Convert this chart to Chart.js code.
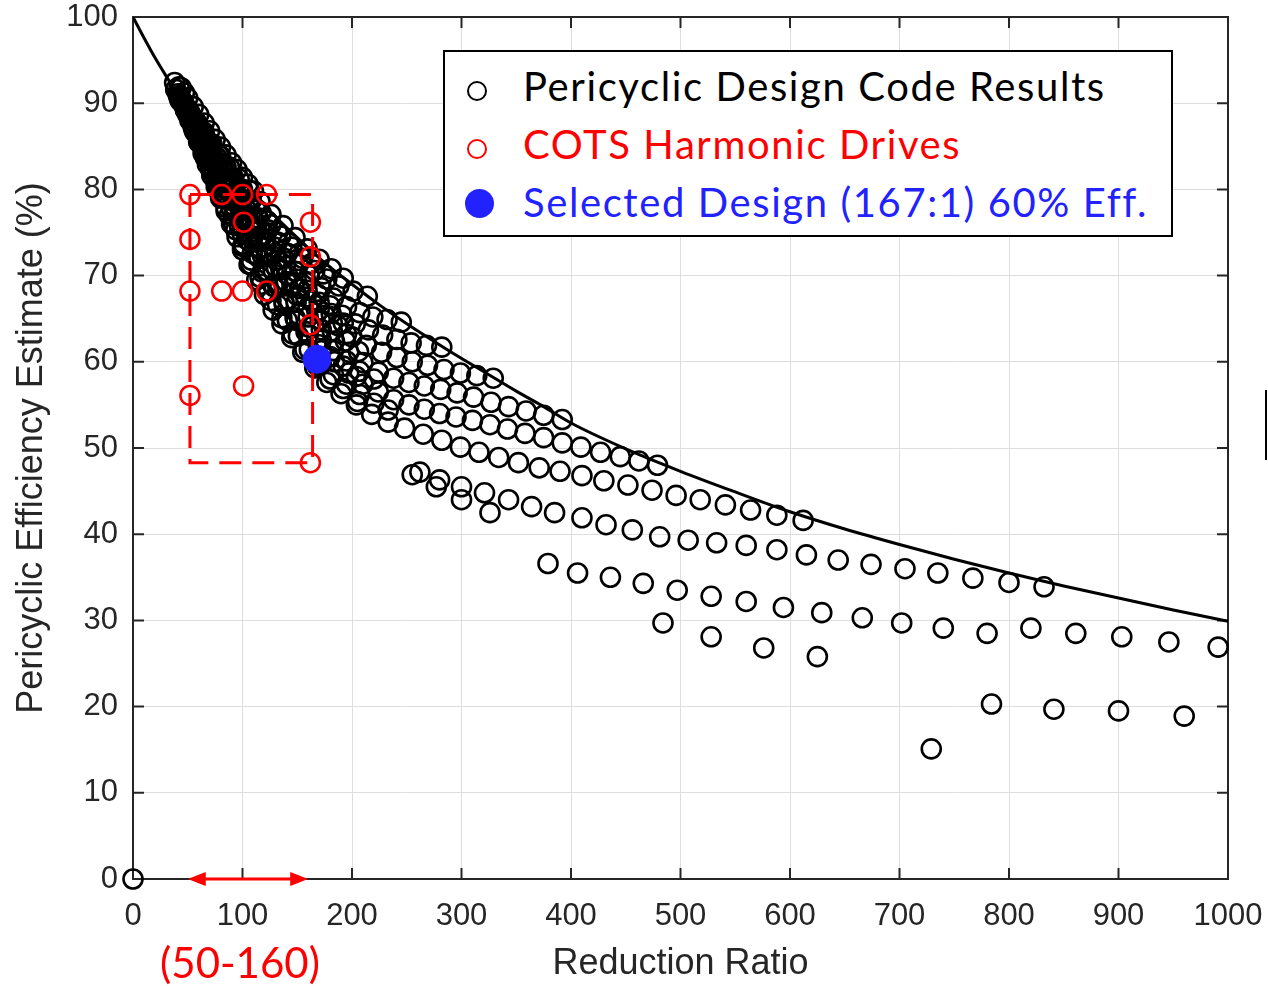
<!DOCTYPE html>
<html lang="en">
<head>
<meta charset="UTF-8">
<title>Pericyclic Efficiency vs Reduction Ratio</title>
<style>
  body { margin: 0; background: #fff; }
  #wrap { position: relative; width: 1268px; height: 986px; }
  #legend {
    position: absolute; left: 443px; top: 50px; width: 726px; height: 183px;
    border: 2px solid #000; background: #fff;
    font-family: Lato, "Noto Sans", sans-serif; font-size: 40px; line-height: 40px; letter-spacing: 1.6px;
  }
  .item { position: absolute; left: 78px; white-space: nowrap; }
  .mark { position: absolute; box-sizing: border-box; border-radius: 50%; }
  #range {
    position: absolute; left: 240px; top: 941px; transform: translateX(-50%);
    font-family: Lato, "Noto Sans", sans-serif; font-size: 42px; line-height: 42px; color: #ff0000;
    white-space: nowrap;
  }
  #bar { position: absolute; left: 1265px; top: 390px; width: 2px; height: 70px; background: #000; }
</style>
</head>
<body>
<div id="wrap">
  <canvas id="chart" width="1268" height="986"></canvas>
  <div id="legend">
    <div class="mark" style="left:22px;top:29px;width:20px;height:20px;border:2px solid #000;"></div>
    <div class="item" style="top:14px;color:#000;">Pericyclic Design Code Results</div>
    <div class="mark" style="left:22px;top:87px;width:20px;height:20px;border:2px solid #ff0000;"></div>
    <div class="item" style="top:72px;color:#ff0000;">COTS Harmonic Drives</div>
    <div class="mark" style="left:20px;top:137px;width:29px;height:29px;background:#2222ff;"></div>
    <div class="item" style="top:130px;color:#2222ff;">Selected Design (167:1) 60% Eff.</div>
  </div>
  <div id="range">(50-160)</div>
  <div id="bar"></div>
</div>

<script src="https://cdn.jsdelivr.net/npm/chart.js"></script>
<script>
  // black curve (upper bound estimate)
  const curveRatio = [0, 10, 20, 30, 40, 60, 80, 100, 125, 150, 175, 200, 225, 250, 287, 325, 350, 375, 400, 450, 500, 550, 600, 650, 700, 750, 800, 850, 900, 950, 1000];
  const curveEff = [100, 97.6, 95.3, 93.2, 91.2, 87.5, 84.1, 81.0, 77.5, 74.4, 71.5, 69.0, 66.6, 64.4, 61.4, 58.5, 56.6, 54.8, 52.9, 49.9, 47.3, 44.9, 42.6, 40.6, 38.8, 37.1, 35.5, 34.0, 32.6, 31.2, 29.9];

  // design code results, one family of designs per array: [ratio, efficiency]
  const famCap = [[38,92.4],[42,91.9],[44,91.8],[47,91.2],[50,90.6],[55,89.6],[60,88.7],[65,87.7],[70,86.8],[75,85.8],[80,84.9],[85,84.0],[90,83.1],[95,82.3],[100,81.4],[105,80.6],[110,79.8]];
  const famF1 = [[45,90.2],[48,89.2],[52,88.0],[56,86.8],[60,85.5],[64,84.2],[68,82.9],[72,81.6],[76,80.3],[80,79.0],[85,77.5],[90,76.0],[95,74.5],[100,73.0],[106,71.3],[113,69.5],[120,67.8],[128,66.0],[136,64.4],[145,62.8],[155,61.1],[166,59.3],[177,57.6],[190,56.3],[204,55.0],[218,53.9],[233,53.0],[248,52.3],[265,51.6],[282,50.9],[299,50.1],[316,49.5],[334,48.9],[352,48.3],[371,47.7],[390,47.3],[410,46.8],[430,46.2],[452,45.7],[474,45.1],[496,44.5],[518,44.0],[541,43.4],[564,42.8],[588,42.2],[612,41.6]];
  const famH0 = [[50,88.7],[55,87.2],[60,85.6],[66,83.7],[72,81.8],[78,79.9],[85,77.9],[92,75.9],[100,73.4],[108,71.3],[117,69.0],[126,67.1],[136,65.1],[146,63.2],[157,61.4],[168,59.6],[180,58.0],[192,56.9],[205,55.4]];
  const famH1 = [[46,90.0],[49,89.1],[53,87.9],[57,86.6],[61,85.4],[66,83.9],[71,82.3],[76,80.8],[82,79.0],[88,77.0],[94,75.3],[101,73.6],[108,71.8],[116,69.8],[124,68.2],[132,66.6],[141,64.8],[151,63.0],[161,61.4],[172,59.7],[183,58.5],[195,57.4],[207,56.2],[220,55.2],[233,54.4]];
  const famG1 = [[44,90.4],[48,89.5],[52,88.5],[56,87.0],[62,85.4],[69,83.3],[76,81.3],[84,79.1],[92,76.9],[100,74.8],[109,72.6],[118,70.4],[128,68.8],[138,66.7],[149,64.8],[160,63.1],[172,61.3],[184,60.0],[197,58.7],[210,57.4],[224,56.5],[238,55.6],[252,55.0],[266,54.5],[280,54.0],[295,53.6],[310,53.2],[326,52.7],[342,52.2],[358,51.7],[375,51.2],[392,50.6],[409,50.1],[427,49.5],[445,49.0],[462,48.5],[479,48.0]];
  const famH7 = [[47,89.8],[51,88.7],[55,87.4],[60,86.0],[65,84.6],[71,82.8],[77,81.1],[83,79.5],[90,77.7],[97,75.9],[104,74.2],[112,72.4],[120,70.6],[129,68.7],[138,66.9],[148,65.1],[158,63.5],[169,62.0],[180,60.6],[192,59.5],[204,58.3]];
  const famH2 = [[45,90.2],[49,89.2],[53,88.1],[58,86.6],[63,85.3],[68,83.9],[74,82.2],[80,80.6],[86,79.0],[93,77.3],[100,75.5],[107,73.9],[115,72.1],[123,70.5],[132,68.9],[141,67.2],[151,65.5],[161,64.0],[172,62.5],[183,61.3],[195,60.1],[207,58.9],[220,58.0]];
  const famG2 = [[43,90.7],[48,89.4],[53,88.1],[58,86.8],[64,85.2],[70,83.7],[77,81.8],[84,80.1],[92,78.1],[100,76.2],[109,74.3],[118,72.4],[128,70.6],[138,68.8],[149,66.9],[160,65.2],[172,63.7],[184,62.4],[197,61.1],[210,59.9],[224,58.8],[238,58.1],[252,57.6],[266,57.2],[281,56.8],[296,56.4],[311,55.9],[327,55.3],[343,54.8],[359,54.3],[375,53.8],[392,53.3]];
  const famH3 = [[44,90.4],[48,89.4],[52,88.4],[57,87.2],[62,85.9],[67,84.7],[73,83.2],[79,81.7],[85,80.3],[92,78.6],[99,77.0],[106,75.5],[114,73.9],[122,72.4],[131,70.9],[140,69.3],[150,67.7],[160,66.3],[171,64.9],[182,63.6],[194,62.4],[206,61.2]];
  const famH6 = [[46,89.9],[51,88.6],[56,87.4],[62,86.0],[68,84.6],[75,82.9],[82,81.2],[90,79.4],[98,77.6],[107,75.8],[116,74.1],[126,72.4],[136,70.7],[147,69.0],[158,67.5],[170,66.0],[182,64.5],[195,63.2]];
  const famG3 = [[43,90.6],[47,89.7],[51,88.7],[56,87.5],[61,86.3],[67,84.9],[73,83.5],[80,81.8],[87,80.3],[95,78.5],[103,76.8],[112,75.1],[121,73.3],[131,71.8],[141,70.1],[152,68.5],[163,67.1],[175,65.4],[187,64.2],[200,62.9],[213,61.9],[227,61.1],[241,60.5],[255,60.0],[269,59.6],[284,59.1],[299,58.7],[314,58.4],[329,58.1]];
  const famH4 = [[43,90.6],[47,89.7],[51,88.7],[56,87.6],[61,86.4],[66,85.3],[72,84.0],[78,82.6],[84,81.2],[91,79.6],[98,78.3],[105,76.9],[113,75.4],[121,74.0],[130,72.6],[139,71.1],[149,69.6],[159,68.3],[170,66.9],[181,65.6],[192,64.5]];
  const famG4 = [[42,90.8],[46,90.0],[50,89.0],[54,88.2],[59,87.1],[64,85.9],[70,84.6],[76,83.3],[82,82.0],[89,80.6],[96,79.2],[104,77.6],[112,76.2],[120,74.8],[129,73.3],[138,72.0],[148,70.5],[158,69.2],[169,67.8],[180,66.5],[191,65.4],[203,64.4],[215,63.7],[228,63.1],[241,62.6],[254,62.2],[268,61.9],[282,61.7]];
  const famG5 = [[42,90.7],[46,90.0],[50,89.1],[55,88.1],[60,87.0],[65,85.9],[71,84.8],[77,83.6],[84,82.1],[91,80.8],[98,79.5],[106,78.1],[114,76.7],[123,75.3],[132,73.9],[141,72.6],[151,71.3],[161,70.0],[172,68.6],[183,67.4],[195,66.4],[207,65.7],[219,65.2],[232,64.9],[245,64.6]];
  const famH5 = [[43,90.3],[48,89.2],[53,88.2],[58,87.2],[64,86.0],[70,84.9],[76,83.8],[83,82.5],[90,81.3],[98,80.0],[106,78.8],[114,77.6],[123,76.3],[132,75.0],[142,73.8],[152,72.6],[163,71.4],[174,70.2]];
  const famG6 = [[44,90.4],[49,89.4],[54,88.4],[59,87.5],[65,86.3],[71,85.2],[78,84.0],[85,82.6],[92,81.3],[100,80.0],[108,78.7],[117,77.3],[126,75.9],[135,74.6],[145,73.3],[155,72.0],[166,70.6],[177,69.6],[188,68.8],[201,68.2],[214,67.6]];
  const famG7 = [[39,91.6],[41,91.1],[46,90.1],[52,88.9],[58,87.8],[65,86.6],[72,85.3],[80,83.9],[88,82.6],[97,81.2],[106,79.9],[116,78.6],[126,77.1],[137,75.8],[148,74.4],[159,73.1],[170,71.9],[181,70.8],[192,69.7]];
  const famR3 = [[262,47.2],[280,46.3],[300,45.5],[321,44.8],[343,44.0],[364,43.2],[385,42.5],[410,41.9],[432,41.1],[456,40.5],[481,39.7],[507,39.3],[533,39.0],[560,38.7],[588,38.2],[615,37.6],[644,37.0],[674,36.5],[705,36.0],[735,35.5],[767,34.9],[800,34.4],[832,33.9]];
  const famR3b = [[255,46.9],[277,45.5],[300,44.0],[326,42.5]];
  const famR4 = [[379,36.6],[406,35.5],[436,35.0],[466,34.3],[497,33.5],[528,32.8],[560,32.2],[594,31.5],[629,30.9],[666,30.3],[702,29.7],[740,29.1],[780,28.5],[820,29.1],[861,28.5],[903,28.1],[946,27.5],[991,26.9]];
  const famR5 = [[484,29.7],[528,28.1],[576,26.8],[625,25.8]];
  const famR6 = [[729,15.1],[784,20.3],[841,19.7],[900,19.5],[960,18.9]];
  const famOrigin = [[0,0]];

  // commercial harmonic drives
  const cotsRatio = [52, 81, 100, 122, 101, 162, 52, 162, 52, 81, 100, 122, 162, 52, 101, 162];
  const cotsEff = [79.4, 79.4, 79.4, 79.4, 76.2, 76.2, 74.2, 72.2, 68.2, 68.2, 68.2, 68.2, 64.3, 56.1, 57.2, 48.3];

  // selected design
  const selectedRatio = [168];
  const selectedEff = [60.3];

  // dashed box around COTS region and the arrow under the axis
  const boxRatio = [52, 164, 164, 52, 52];
  const boxEff = [79.4, 79.4, 48.3, 48.3, 79.4];
  const arrowRange = [50, 160];

  function pares(lista) {
    return lista.map(p => ({ x: p[0], y: p[1] }));
  }
  function zipar(xs, ys) {
    return xs.map((v, i) => ({ x: v, y: ys[i] }));
  }

  var pontosPretos = [].concat(famOrigin, famCap, famF1, famH0, famH1, famG1, famH7, famH2, famG2, famH3, famH6, famG3, famH4, famG4, famG5, famH5, famG6, famG7,
    famR3, famR3b, famR4, famR5, famR6);

  // box (frame), inner tick marks and the red arrow
  const moldura = {
    id: 'moldura',
    beforeDatasetsDraw(chart) {
      const { ctx, chartArea: a, scales: { x, y } } = chart;
      ctx.save();
      ctx.strokeStyle = '#262626';
      ctx.lineWidth = 2;
      ctx.strokeRect(a.left, a.top, a.right - a.left, a.bottom - a.top);
      ctx.beginPath();
      x.ticks.forEach(t => {
        const px = x.getPixelForValue(t.value);
        ctx.moveTo(px, a.bottom); ctx.lineTo(px, a.bottom - 11);
        ctx.moveTo(px, a.top); ctx.lineTo(px, a.top + 11);
      });
      y.ticks.forEach(t => {
        const py = y.getPixelForValue(t.value);
        ctx.moveTo(a.left, py); ctx.lineTo(a.left + 11, py);
        ctx.moveTo(a.right, py); ctx.lineTo(a.right - 11, py);
      });
      ctx.stroke();
      ctx.restore();
    },
    afterDatasetsDraw(chart) {
      const { ctx, chartArea: a, scales: { x } } = chart;
      const x0 = x.getPixelForValue(arrowRange[0]);
      const x1 = x.getPixelForValue(arrowRange[1]);
      const yy = a.bottom;
      ctx.save();
      ctx.strokeStyle = '#ff0000';
      ctx.fillStyle = '#ff0000';
      ctx.lineWidth = 3;
      ctx.beginPath();
      ctx.moveTo(x0 + 10, yy); ctx.lineTo(x1 - 10, yy);
      ctx.stroke();
      ctx.beginPath();
      ctx.moveTo(x0, yy); ctx.lineTo(x0 + 18, yy - 7); ctx.lineTo(x0 + 18, yy + 7); ctx.closePath();
      ctx.moveTo(x1, yy); ctx.lineTo(x1 - 18, yy - 7); ctx.lineTo(x1 - 18, yy + 7); ctx.closePath();
      ctx.fill();
      ctx.restore();
    }
  };

  const fonteEixo = { family: '"Liberation Sans", Arial, sans-serif', size: 31, lineHeight: 1 };
  const fonteTitulo = { family: '"Liberation Sans", Arial, sans-serif', size: 36 };

  new Chart(document.getElementById('chart'), {
    type: 'scatter',
    data: {
      datasets: [
        {
          label: 'Selected Design (167:1) 60% Eff.',
          data: zipar(selectedRatio, selectedEff),
          pointRadius: 14,
          pointBorderWidth: 1,
          pointBackgroundColor: '#2222ff',
          pointBorderColor: '#2222ff',
          order: 1
        },
        {
          label: 'COTS Harmonic Drives',
          data: zipar(cotsRatio, cotsEff),
          pointRadius: 9.5,
          pointBorderWidth: 2.5,
          pointBorderColor: '#ff0000',
          pointBackgroundColor: 'rgba(0,0,0,0)',
          order: 2
        },
        {
          label: 'box',
          data: zipar(boxRatio, boxEff),
          showLine: true,
          borderColor: '#ff0000',
          borderWidth: 3,
          borderDash: [22, 11],
          pointRadius: 0,
          tension: 0,
          order: 3
        },
        {
          label: 'curve',
          data: zipar(curveRatio, curveEff),
          showLine: true,
          borderColor: '#000',
          borderWidth: 3,
          pointRadius: 0,
          cubicInterpolationMode: 'monotone',
          order: 4
        },
        {
          label: 'Pericyclic Design Code Results',
          data: pares(pontosPretos),
          pointRadius: 9.5,
          pointBorderWidth: 2.6,
          pointBorderColor: '#000',
          pointBackgroundColor: 'rgba(0,0,0,0)',
          clip: false,
          order: 5
        }
      ]
    },
    options: {
      responsive: false,
      animation: false,
      events: [],
      layout: { padding: { left: 6, right: 40, top: 17, bottom: 0 } },
      plugins: { legend: { display: false }, tooltip: { enabled: false } },
      scales: {
        x: {
          type: 'linear', min: 0, max: 1000,
          afterFit: s => { s.height = 107; s.paddingLeft = 0; s.paddingRight = 0; },
          border: { display: false },
          grid: { color: '#dedede', lineWidth: 1, drawTicks: false },
          ticks: { stepSize: 100, padding: 22, color: '#262626', font: fonteEixo, maxRotation: 0, callback: v => String(v) },
          title: { display: true, text: 'Reduction Ratio', color: '#262626', font: fonteTitulo, padding: { top: 4, bottom: 0 } }
        },
        y: {
          type: 'linear', min: 0, max: 100,
          afterFit: s => { s.width = 127; s.paddingTop = 0; s.paddingBottom = 0; },
          border: { display: false },
          grid: { color: '#dedede', lineWidth: 1, drawTicks: false },
          ticks: { stepSize: 10, padding: 15, color: '#262626', font: fonteEixo, callback: v => String(v) },
          title: { display: true, text: 'Pericyclic Efficiency Estimate (%)', color: '#262626', font: fonteTitulo, padding: { top: 4, bottom: 4 } }
        }
      }
    },
    plugins: [moldura]
  });
</script>
</body>
</html>
